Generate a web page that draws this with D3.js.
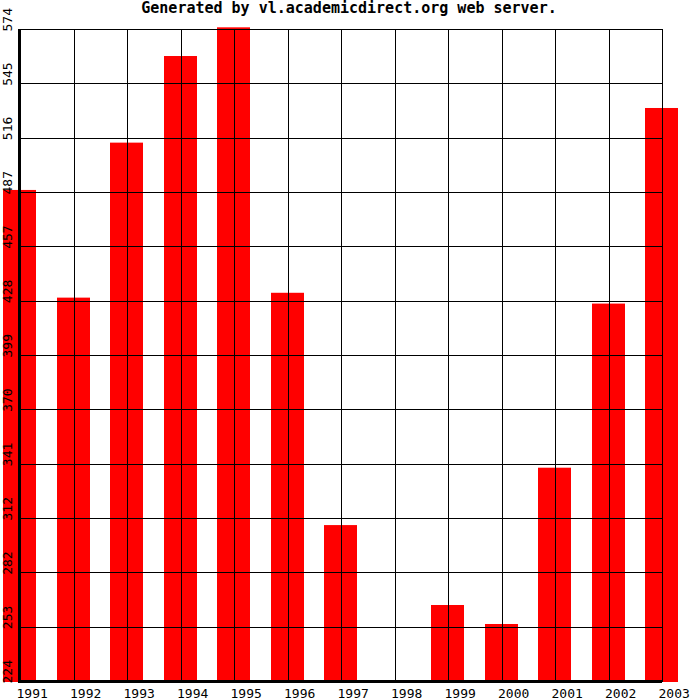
<!DOCTYPE html>
<html>
<head>
<meta charset="utf-8">
<script src="https://cdn.jsdelivr.net/npm/d3@7"></script>
<style>
  html, body { margin: 0; padding: 0; background: #fff; }
  svg { display: block; }
  text { font-family: "DejaVu Sans Mono", monospace; }
</style>
</head>
<body>
<svg id="chart" width="700" height="700"></svg>
<script>
const years = ["1991","1992","1993","1994","1995","1996","1997","1998","1999","2000","2001","2002","2003"];
const values = [487.6, 429.8, 513.0, 559.5, 574.9, 432.4, 307.7, 224, 264.8, 254.6, 338.5, 426.6, 531.6];
const yTickLabels = ["224","253","282","312","341","370","399","428","457","487","516","545","574"];
const yMin = 224, yMax = 574;
const title = "Generated by vl.academicdirect.org web server.";

(function () {
const svg = d3.select("#chart");
const W = 700, H = 700;
const pLeft = 20, pRight = 662, pTop = 29, pBottom = 681;

const x = d3.scalePoint().domain(years).range([pLeft, pRight]);
const y = d3.scaleLinear().domain([yMin, yMax]).range([pBottom, pTop]);
const yTicks = d3.range(yTickLabels.length).map(i => yMin + i * (yMax - yMin) / (yTickLabels.length - 1));

svg.append("rect").attr("width", W).attr("height", H).attr("fill", "#fff");

// bars
const barW = 33;
svg.append("g").selectAll("rect").data(years).join("rect")
  .attr("x", (d) => Math.floor(x(d) - barW / 2))
  .attr("width", barW)
  .attr("y", (d, i) => y(values[i]))
  .attr("height", (d, i) => Math.max(0, y(yMin) + 1 - y(values[i])))
  .attr("fill", "#ff0000");

// horizontal grid
const grid = svg.append("g").attr("stroke", "#000").attr("stroke-width", 1).attr("shape-rendering", "crispEdges");
grid.selectAll("line.h").data(yTicks).join("line").attr("class", "h")
  .attr("x1", pLeft).attr("x2", pRight + 1)
  .attr("y1", d => Math.round(y(d)) + 0.5).attr("y2", d => Math.round(y(d)) + 0.5);
// vertical grid
grid.selectAll("line.v").data(years).join("line").attr("class", "v")
  .attr("x1", d => Math.round(x(d)) + 0.5).attr("x2", d => Math.round(x(d)) + 0.5)
  .attr("y1", pTop).attr("y2", pBottom);

// axes
svg.append("line").attr("x1", 19.5).attr("x2", 19.5).attr("y1", pTop).attr("y2", pBottom + 2)
  .attr("stroke", "#000").attr("stroke-width", 3).attr("shape-rendering", "crispEdges");
svg.append("line").attr("x1", 18).attr("x2", pRight).attr("y1", pBottom + 0.5).attr("y2", pBottom + 0.5)
  .attr("stroke", "#000").attr("stroke-width", 3).attr("shape-rendering", "crispEdges");

// y labels (rotated)
svg.append("g").selectAll("text").data(yTicks).join("text")
  .attr("transform", (d) => `translate(12,${y(d) + 2.5}) rotate(-90)`)
  .attr("font-size", 13)
  .attr("fill", "#000")
  .text((d, i) => yTickLabels[i]);

// x labels
svg.append("g").selectAll("text").data(years).join("text")
  .attr("x", d => x(d) - 3.5)
  .attr("y", 698)
  .attr("font-size", 13)
  .attr("fill", "#000")
  .text(d => d);

// title
svg.append("text").attr("x", 349).attr("y", 13)
  .attr("text-anchor", "middle").attr("font-size", 15).attr("font-weight", "bold")
  .attr("fill", "#000").text(title);
})();
</script>
</body>
</html>
